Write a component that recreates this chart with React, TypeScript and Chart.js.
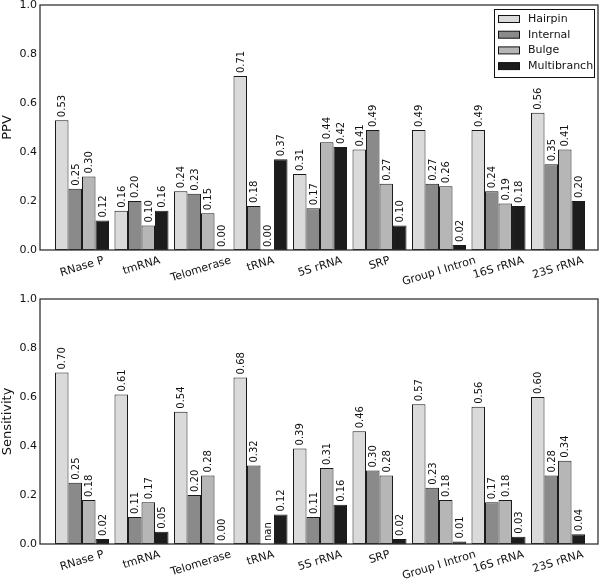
import React, { useEffect, useRef } from 'react';
import { Chart, registerables } from 'chart.js';

Chart.register(...registerables);
Chart.defaults.font.family = '"DejaVu Sans", sans-serif';

const categories = ['RNase P', 'tmRNA', 'Telomerase', 'tRNA', '5S rRNA', 'SRP', 'Group I Intron', '16S rRNA', '23S rRNA'];
const seriesNames = ['Hairpin', 'Internal', 'Bulge', 'Multibranch'];
const seriesColors = ['#dadada', '#8a8a8a', '#b6b6b6', '#1c1c1c'];

const ppvHairpin = [0.53, 0.16, 0.24, 0.71, 0.31, 0.41, 0.49, 0.49, 0.56];
const ppvInternal = [0.25, 0.2, 0.23, 0.18, 0.17, 0.49, 0.27, 0.24, 0.35];
const ppvBulge = [0.3, 0.1, 0.15, 0.0, 0.44, 0.27, 0.26, 0.19, 0.41];
const ppvMultibranch = [0.12, 0.16, 0.0, 0.37, 0.42, 0.1, 0.02, 0.18, 0.2];

const sensHairpin = [0.7, 0.61, 0.54, 0.68, 0.39, 0.46, 0.57, 0.56, 0.6];
const sensInternal = [0.25, 0.11, 0.2, 0.32, 0.11, 0.3, 0.23, 0.17, 0.28];
const sensBulge = [0.18, 0.17, 0.28, NaN, 0.31, 0.28, 0.18, 0.18, 0.34];
const sensMultibranch = [0.02, 0.05, 0.0, 0.12, 0.16, 0.02, 0.01, 0.03, 0.04];

const yTicks = [0, 0.2, 0.4, 0.6, 0.8, 1.0];

const FONT = '"DejaVu Sans", sans-serif';
const TEXT = '#111';

const framePlugin = {
  id: 'frame',
  afterDraw(chart: any) {
    const { ctx, chartArea: a } = chart;
    ctx.save();
    ctx.strokeStyle = '#333';
    ctx.lineWidth = 1.3;
    ctx.strokeRect(a.left, a.top, a.right - a.left, a.bottom - a.top);
    ctx.restore();
  },
};

const valueLabelPlugin = {
  id: 'valueLabels',
  afterDatasetsDraw(chart: any) {
    const { ctx } = chart;
    const yScale = chart.scales.y;
    ctx.save();
    ctx.fillStyle = TEXT;
    ctx.font = `10px ${FONT}`;
    ctx.textAlign = 'left';
    ctx.textBaseline = 'middle';
    chart.data.datasets.forEach((ds: any, k: number) => {
      const meta = chart.getDatasetMeta(k);
      ds.rawValues.forEach((v: number, i: number) => {
        const el = meta.data[i];
        const x = chart.scales.x.getPixelForValue(i) + (el && !Number.isNaN(el.x) ? el.x - chart.scales.x.getPixelForValue(i) : (k - 1.5) * el.width);
        const y = Number.isNaN(v) ? yScale.getPixelForValue(0) : yScale.getPixelForValue(v);
        const txt = Number.isNaN(v) ? 'nan' : v.toFixed(2);
        ctx.save();
        ctx.translate(x + 1, y - 3);
        ctx.rotate(-Math.PI / 2);
        ctx.fillText(txt, 0, 0);
        ctx.restore();
      });
    });
    ctx.restore();
  },
};

const xLabelPlugin = {
  id: 'xLabels',
  afterDraw(chart: any) {
    const { ctx, chartArea } = chart;
    const xScale = chart.scales.x;
    const th = (17 * Math.PI) / 180;
    ctx.save();
    ctx.fillStyle = TEXT;
    ctx.font = `11px ${FONT}`;
    ctx.textAlign = 'center';
    ctx.textBaseline = 'middle';
    categories.forEach((c, i) => {
      const w = ctx.measureText(c).width;
      const half = (w * Math.sin(th) + 11 * Math.cos(th)) / 2;
      const x = xScale.getPixelForValue(i);
      const y = chartArea.bottom + 5 + half;
      ctx.save();
      ctx.translate(x, y);
      ctx.rotate(-th);
      ctx.fillText(c, 0, 0);
      ctx.restore();
    });
    ctx.restore();
  },
};

const makeLegendPlugin = (offsetTop: number) => ({
  id: 'boxLegend',
  afterDraw(chart: any) {
    const { ctx } = chart;
    const bx = 494;
    const by = 9 - offsetTop;
    const bw = 100;
    const bh = 68;
    ctx.save();
    ctx.fillStyle = '#fff';
    ctx.fillRect(bx, by, bw, bh);
    ctx.strokeStyle = '#111';
    ctx.lineWidth = 1;
    ctx.strokeRect(bx + 0.5, by + 0.5, bw, bh);
    ctx.font = `11px ${FONT}`;
    ctx.textAlign = 'left';
    ctx.textBaseline = 'middle';
    chart.data.datasets.forEach((ds: any, k: number) => {
      const cy = by + 10 + k * 15.7;
      ctx.fillStyle = ds.backgroundColor;
      ctx.fillRect(498.5, cy - 3.5, 21, 7);
      ctx.strokeStyle = '#111';
      ctx.strokeRect(498.5, cy - 3.5, 21, 7);
      ctx.fillStyle = TEXT;
      ctx.fillText(ds.label, 528, cy);
    });
    ctx.restore();
  },
});

type PanelProps = {
  title: string;
  series: number[][];
  top: number;
  height: number;
  legend: boolean;
};

const BarPanel = ({ title, series, top, height, legend }: PanelProps) => {
  const canvasRef = useRef<HTMLCanvasElement>(null);

  useEffect(() => {
    if (!canvasRef.current) return;
    const plugins: any[] = [valueLabelPlugin, framePlugin, xLabelPlugin];
    if (legend) plugins.push(makeLegendPlugin(top));
    const chart = new Chart(canvasRef.current, {
      type: 'bar',
      data: {
        datasets: series.map((vals, k) => ({
          label: seriesNames[k],
          rawValues: vals,
          data: vals.map((v, i) => ({ x: i, y: Number.isNaN(v) ? 0 : v })),
          backgroundColor: seriesColors[k],
          borderColor: '#1a1a1a',
          borderWidth: 1,
          borderSkipped: false,
          categoryPercentage: 0.908,
          barPercentage: 1,
        })) as any,
      },
      options: {
        animation: false,
        responsive: false,
        layout: { padding: { top: 10, right: 2, bottom: 0, left: 0 } },
        plugins: { legend: { display: false }, tooltip: { enabled: false } },
        scales: {
          x: {
            type: 'linear',
            min: -0.706,
            max: 8.672,
            offset: false,
            grid: { display: false },
            border: { display: false },
            ticks: { display: false },
            afterBuildTicks: (s: any) => {
              s.ticks = categories.map((_, i) => ({ value: i }));
            },
            afterFit: (s: any) => {
              s.height = 37;
            },
          },
          y: {
            min: 0,
            max: 1,
            grid: { display: false, drawTicks: false },
            border: { display: false },
            afterBuildTicks: (s: any) => {
              s.ticks = yTicks.map((v) => ({ value: v }));
            },
            ticks: {
              font: { size: 11 },
              color: TEXT,
              padding: 3,
              callback: (v: any) => Number(v).toFixed(1),
            },
            title: {
              display: true,
              text: title,
              font: { size: 13 },
              color: TEXT,
              padding: { top: 0, bottom: 0 },
            },
            afterFit: (s: any) => {
              s.width = 40;
            },
          },
        },
      } as any,
      plugins,
    });
    return () => {
      chart.destroy();
    };
  }, [title, series, top, height, legend]);

  return (
    <canvas
      ref={canvasRef}
      width={600}
      height={height}
      style={{ position: 'absolute', left: 0, top, width: 600, height }}
    />
  );
};

const ppvSeries = [ppvHairpin, ppvInternal, ppvBulge, ppvMultibranch];
const sensSeries = [sensHairpin, sensInternal, sensBulge, sensMultibranch];

const App = () => {
  return (
    <div style={{ position: 'absolute', left: 0, top: 0, width: 600, height: 581, background: '#fff', overflow: 'hidden' }}>
      <BarPanel title="PPV" series={ppvSeries} top={-5} height={292} legend={true} />
      <BarPanel title="Sensitivity" series={sensSeries} top={289} height={292} legend={false} />
    </div>
  );
};

export default App;
